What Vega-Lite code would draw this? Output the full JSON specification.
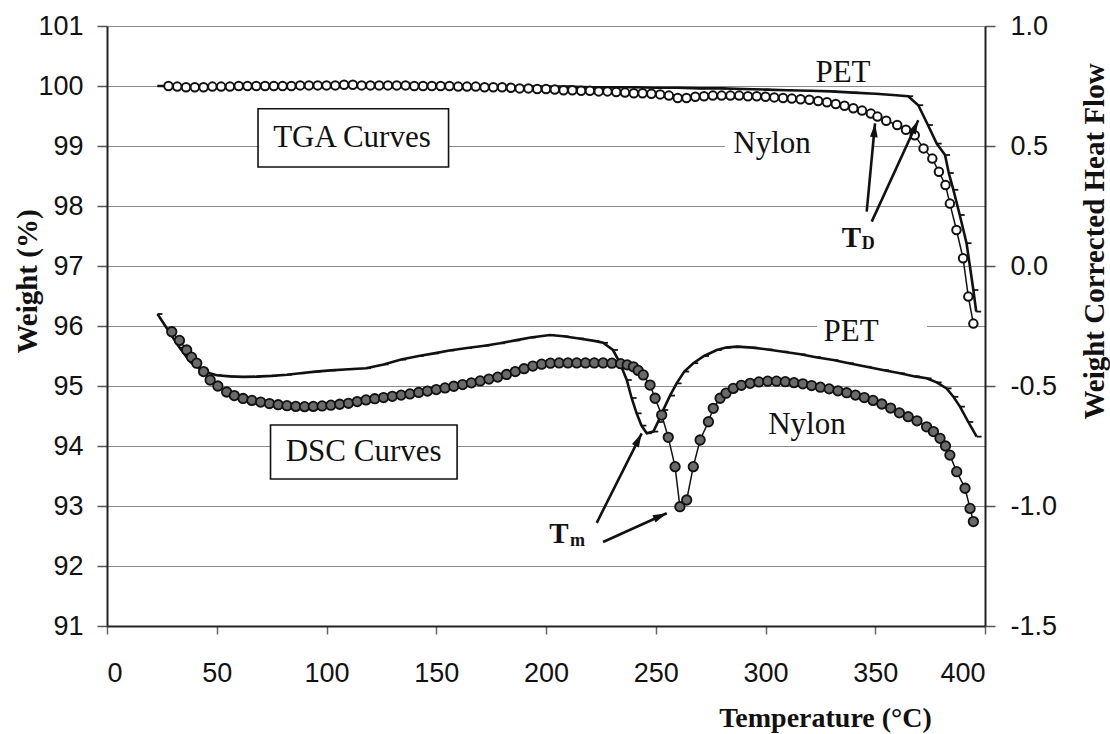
{
"$schema": "https://vega.github.io/schema/vega-lite/v6.json",
"width": 878, "height": 600,
"autosize": {"type": "none"},
"padding": {"left": 107, "top": 26, "right": 125, "bottom": 108},
"background": "white",
"config": {"view": {"stroke": null}, "font": "Liberation Sans"},
"datasets": {
"tga_nylon": [
{"T":28,"W":100.0},{"T":32,"W":99.99},{"T":36,"W":99.98},{"T":40,"W":99.98},{"T":44,"W":99.98},{"T":48,"W":99.99},{"T":52,"W":99.99},{"T":56,"W":99.99},{"T":60,"W":100.0},{"T":64,"W":100.0},{"T":68,"W":100.0},{"T":72,"W":100.0},{"T":76,"W":100.0},{"T":80,"W":100.0},{"T":84,"W":100.0},{"T":88,"W":100.01},{"T":92,"W":100.01},{"T":96,"W":100.01},{"T":100,"W":100.01},{"T":104,"W":100.01},{"T":108,"W":100.02},{"T":112,"W":100.02},{"T":116,"W":100.01},{"T":120,"W":100.01},{"T":124,"W":100.01},{"T":128,"W":100.01},{"T":132,"W":100.01},{"T":136,"W":100.01},{"T":140,"W":100.0},{"T":144,"W":100.0},{"T":148,"W":100.0},{"T":152,"W":100.0},{"T":156,"W":100.0},{"T":160,"W":99.99},{"T":164,"W":99.99},{"T":168,"W":99.99},{"T":172,"W":99.98},{"T":176,"W":99.98},{"T":180,"W":99.98},{"T":184,"W":99.97},{"T":188,"W":99.96},{"T":192,"W":99.96},{"T":196,"W":99.95},{"T":200,"W":99.95},{"T":204,"W":99.94},{"T":208,"W":99.93},{"T":212,"W":99.93},{"T":216,"W":99.92},{"T":220,"W":99.92},{"T":224,"W":99.91},{"T":228,"W":99.91},{"T":232,"W":99.9},{"T":236,"W":99.89},{"T":240,"W":99.88},{"T":244,"W":99.88},{"T":248,"W":99.87},{"T":252,"W":99.86},{"T":256,"W":99.84},{"T":260,"W":99.8},{"T":264,"W":99.8},{"T":268,"W":99.82},{"T":272,"W":99.83},{"T":276,"W":99.84},{"T":280,"W":99.84},{"T":284,"W":99.84},{"T":288,"W":99.84},{"T":292,"W":99.83},{"T":296,"W":99.83},{"T":300,"W":99.82},{"T":304,"W":99.81},{"T":308,"W":99.8},{"T":312,"W":99.79},{"T":316,"W":99.78},{"T":320,"W":99.77},{"T":324,"W":99.75},{"T":328,"W":99.73},{"T":332,"W":99.7},{"T":336,"W":99.67},{"T":340,"W":99.63},{"T":344,"W":99.59},{"T":348,"W":99.54},{"T":351,"W":99.49},{"T":355,"W":99.42},{"T":360,"W":99.35},{"T":364,"W":99.27},{"T":368,"W":99.18},{"T":372,"W":98.96},{"T":376,"W":98.79},{"T":379,"W":98.57},{"T":382,"W":98.35},{"T":384,"W":98.04},{"T":387,"W":97.6},{"T":390,"W":97.13},{"T":392.4,"W":96.49},{"T":394.7,"W":96.04}
],
"tga_pet": [
{"T":23,"W":100.0},{"T":30,"W":100.0},{"T":40,"W":100.0},{"T":50,"W":100.0},{"T":60,"W":100.0},{"T":70,"W":100.0},{"T":80,"W":100.0},{"T":90,"W":100.0},{"T":100,"W":100.0},{"T":110,"W":100.0},{"T":120,"W":100.0},{"T":130,"W":100.0},{"T":140,"W":100.0},{"T":150,"W":100.0},{"T":160,"W":100.0},{"T":170,"W":99.99},{"T":180,"W":99.99},{"T":190,"W":99.99},{"T":200,"W":99.99},{"T":210,"W":99.99},{"T":220,"W":99.98},{"T":230,"W":99.98},{"T":240,"W":99.98},{"T":250,"W":99.97},{"T":260,"W":99.97},{"T":270,"W":99.96},{"T":280,"W":99.96},{"T":290,"W":99.95},{"T":300,"W":99.94},{"T":310,"W":99.93},{"T":320,"W":99.92},{"T":330,"W":99.91},{"T":340,"W":99.89},{"T":350,"W":99.87},{"T":358,"W":99.85},{"T":365,"W":99.83},{"T":369.6,"W":99.68},{"T":374,"W":99.35},{"T":378,"W":99.04},{"T":381.8,"W":98.85},{"T":383.5,"W":98.55},{"T":385.6,"W":98.27},{"T":388.5,"W":97.85},{"T":391.6,"W":97.38},{"T":394.7,"W":96.6},{"T":396,"W":96.24}
],
"dsc_pet": [
{"T":23,"HF":-0.2},{"T":28,"HF":-0.27},{"T":33,"HF":-0.34},{"T":38,"HF":-0.4},{"T":44,"HF":-0.44},{"T":50,"HF":-0.455},{"T":56,"HF":-0.46},{"T":62,"HF":-0.462},{"T":68,"HF":-0.461},{"T":75,"HF":-0.458},{"T":82,"HF":-0.453},{"T":88,"HF":-0.447},{"T":95,"HF":-0.44},{"T":102,"HF":-0.435},{"T":110,"HF":-0.43},{"T":118,"HF":-0.426},{"T":126,"HF":-0.41},{"T":134,"HF":-0.39},{"T":142,"HF":-0.375},{"T":149,"HF":-0.364},{"T":156,"HF":-0.352},{"T":164,"HF":-0.342},{"T":172,"HF":-0.332},{"T":179,"HF":-0.322},{"T":186,"HF":-0.31},{"T":193,"HF":-0.298},{"T":201.8,"HF":-0.2875},{"T":208,"HF":-0.293},{"T":215,"HF":-0.302},{"T":222,"HF":-0.312},{"T":226,"HF":-0.32},{"T":230.5,"HF":-0.35},{"T":233.5,"HF":-0.4},{"T":236.8,"HF":-0.475},{"T":239,"HF":-0.55},{"T":241.3,"HF":-0.614},{"T":243.5,"HF":-0.665},{"T":245.9,"HF":-0.697},{"T":248.9,"HF":-0.69},{"T":251,"HF":-0.65},{"T":253.4,"HF":-0.6},{"T":256.5,"HF":-0.54},{"T":259.5,"HF":-0.489},{"T":263,"HF":-0.44},{"T":267.1,"HF":-0.405},{"T":272,"HF":-0.375},{"T":277.8,"HF":-0.35},{"T":282,"HF":-0.34},{"T":286.9,"HF":-0.336},{"T":294,"HF":-0.34},{"T":301,"HF":-0.348},{"T":308.1,"HF":-0.357},{"T":316,"HF":-0.368},{"T":323,"HF":-0.38},{"T":330.9,"HF":-0.392},{"T":338,"HF":-0.405},{"T":346,"HF":-0.42},{"T":354,"HF":-0.434},{"T":361.3,"HF":-0.447},{"T":368,"HF":-0.46},{"T":373.4,"HF":-0.468},{"T":378,"HF":-0.485},{"T":382.5,"HF":-0.51},{"T":385.6,"HF":-0.545},{"T":388.6,"HF":-0.586},{"T":392.4,"HF":-0.65},{"T":396.2,"HF":-0.711}
],
"dsc_nylon": [
{"T":29.5,"HF":-0.274},{"T":33,"HF":-0.31},{"T":36.3,"HF":-0.35},{"T":38.5,"HF":-0.38},{"T":40.9,"HF":-0.405},{"T":44,"HF":-0.44},{"T":47,"HF":-0.475},{"T":50.5,"HF":-0.5},{"T":54.5,"HF":-0.525},{"T":58,"HF":-0.54},{"T":62,"HF":-0.552},{"T":66,"HF":-0.56},{"T":70,"HF":-0.567},{"T":74,"HF":-0.573},{"T":78,"HF":-0.578},{"T":82,"HF":-0.582},{"T":86,"HF":-0.585},{"T":90,"HF":-0.586},{"T":94,"HF":-0.585},{"T":98,"HF":-0.583},{"T":102,"HF":-0.58},{"T":106,"HF":-0.576},{"T":110,"HF":-0.572},{"T":114,"HF":-0.565},{"T":118,"HF":-0.558},{"T":122,"HF":-0.553},{"T":126,"HF":-0.548},{"T":130,"HF":-0.543},{"T":134,"HF":-0.538},{"T":138,"HF":-0.533},{"T":142,"HF":-0.527},{"T":146,"HF":-0.521},{"T":150,"HF":-0.515},{"T":154,"HF":-0.508},{"T":158,"HF":-0.501},{"T":162,"HF":-0.494},{"T":166,"HF":-0.487},{"T":170,"HF":-0.479},{"T":174,"HF":-0.471},{"T":178,"HF":-0.463},{"T":182,"HF":-0.452},{"T":186,"HF":-0.44},{"T":190,"HF":-0.428},{"T":194,"HF":-0.417},{"T":198,"HF":-0.409},{"T":202,"HF":-0.405},{"T":206,"HF":-0.404},{"T":210,"HF":-0.404},{"T":214,"HF":-0.404},{"T":218,"HF":-0.404},{"T":222,"HF":-0.404},{"T":226,"HF":-0.404},{"T":230,"HF":-0.405},{"T":234,"HF":-0.407},{"T":237,"HF":-0.412},{"T":239.8,"HF":-0.42},{"T":242,"HF":-0.435},{"T":244.3,"HF":-0.454},{"T":247.4,"HF":-0.496},{"T":249.7,"HF":-0.551},{"T":252.7,"HF":-0.621},{"T":255.7,"HF":-0.714},{"T":258.8,"HF":-0.836},{"T":261,"HF":-1.003},{"T":264.1,"HF":-0.975},{"T":267.1,"HF":-0.836},{"T":270.2,"HF":-0.725},{"T":274,"HF":-0.649},{"T":276.2,"HF":-0.593},{"T":279.3,"HF":-0.551},{"T":282,"HF":-0.53},{"T":285.3,"HF":-0.51},{"T":289,"HF":-0.497},{"T":293,"HF":-0.489},{"T":297,"HF":-0.483},{"T":301,"HF":-0.48},{"T":305,"HF":-0.48},{"T":309,"HF":-0.482},{"T":313,"HF":-0.486},{"T":317,"HF":-0.491},{"T":321,"HF":-0.498},{"T":325,"HF":-0.505},{"T":329,"HF":-0.512},{"T":333,"HF":-0.52},{"T":337,"HF":-0.528},{"T":341,"HF":-0.538},{"T":345,"HF":-0.548},{"T":349,"HF":-0.56},{"T":353,"HF":-0.575},{"T":357,"HF":-0.592},{"T":361,"HF":-0.612},{"T":365,"HF":-0.628},{"T":369,"HF":-0.645},{"T":373.4,"HF":-0.67},{"T":376.5,"HF":-0.69},{"T":379.5,"HF":-0.718},{"T":382,"HF":-0.75},{"T":384,"HF":-0.788},{"T":387.1,"HF":-0.857},{"T":390.9,"HF":-0.926},{"T":393.2,"HF":-1.01},{"T":394.7,"HF":-1.065}
],
"gaps": [
{"T":281.5,"T2":348.4,"W":98.85,"W2":99.15},
{"T":323.5,"T2":373.6,"W":95.8,"W2":96.15}
],
"boxes": [
{"T":68.8,"T2":155.6,"W":98.65,"W2":99.62},
{"T":74.5,"T2":159.5,"W":93.45,"W2":94.35}
],
"labels": [
{"T":335.3,"W":100.22,"text":"PET"},
{"T":303.0,"W":99.03,"text":"Nylon"},
{"T":339.0,"W":95.9,"text":"PET"},
{"T":318.9,"W":94.35,"text":"Nylon"},
{"T":111.6,"W":99.13,"text":"TGA Curves"},
{"T":116.9,"W":93.9,"text":"DSC Curves"}
],
"tlabels": [
{"T":339.2,"W":97.32,"text":"T"},
{"T":205.9,"W":92.38,"text":"T"}
],
"subs": [
{"T":343.8,"W":97.28,"text":"D"},
{"T":210.9,"W":92.33,"text":"m"}
],
"arrows": [
{"T":346.1,"W":97.905,"T2":349.9,"W2":99.378,"angle":5},
{"T":348.4,"W":97.74,"T2":369.6,"W2":99.43,"angle":25},
{"T":223.1,"W":92.72,"T2":243.6,"W2":94.21,"angle":27},
{"T":226.0,"W":92.4,"T2":255.0,"W2":92.88,"angle":66}
]
},
"encoding": {
"x": {"field": "T", "type": "quantitative", "scale": {"domain": [0, 400], "nice": false, "zero": false}, "title": "Temperature (°C)",
 "axis": {"values": [0,50,100,150,200,250,300,350,400], "tickSize": 8, "tickColor": "#666", "tickWidth": 1.5, "domainColor": "#222", "domainWidth": 2, "labelFontSize": 27, "labelPadding": 26, "labelColor": "#111", "labelFont": "Liberation Sans", "grid": false, "titleFont": "Liberation Serif", "titleFontSize": 28, "titleFontWeight": "bold", "titleColor": "#111", "titleX": 718, "titleY": 100, "titleAlign": "center", "titleBaseline": "alphabetic"}}
},
"layer": [
{
 "encoding": {
  "y": {"field": "W", "type": "quantitative", "scale": {"domain": [91, 101], "nice": false, "zero": false}, "title": "Weight (%)",
   "axis": {"orient": "left", "values": [91,92,93,94,95,96,97,98,99,100,101], "grid": true, "gridColor": "#8a8a8a", "gridWidth": 1.2, "tickSize": 10, "tickColor": "#555", "tickWidth": 1.5, "domainColor": "#222", "domainWidth": 2, "labelFontSize": 27, "labelPadding": 14, "labelFont": "Liberation Sans", "labelColor": "#111", "titleFont": "Liberation Serif", "titleFontSize": 29, "titleFontWeight": "bold", "titleAngle": 270, "titleX": -80, "titleY": 255, "titleAlign": "center", "titleBaseline": "middle", "titleColor": "#111"}}
 },
 "layer": [
  {"data": {"name": "gaps"}, "mark": {"type": "rect", "fill": "white"}, "encoding": {"x2": {"field": "T2"}, "y2": {"field": "W2"}}},
  {"data": {"name": "boxes"}, "mark": {"type": "rect", "fill": "white", "stroke": "#111", "strokeWidth": 1.6}, "encoding": {"x2": {"field": "T2"}, "y2": {"field": "W2"}}},
  {"data": {"name": "tga_pet"}, "mark": {"type": "line", "color": "#111", "strokeWidth": 2.6}},
  {"data": {"name": "tga_pet"}, "mark": {"type": "point", "shape": "M0,-0.25L1.4,-0.25L1.4,0.25L0,0.25Z", "filled": true, "color": "#111", "size": 50, "opacity": 1}},
  {"data": {"name": "tga_nylon"}, "mark": {"type": "line", "color": "#111", "strokeWidth": 1.5}},
  {"data": {"name": "tga_nylon"}, "mark": {"type": "point", "shape": "circle", "filled": true, "fill": "white", "stroke": "#111", "strokeWidth": 2, "size": 72, "opacity": 1}},
  {"data": {"name": "arrows"}, "mark": {"type": "rule", "color": "#111", "strokeWidth": 2.6}, "encoding": {"x2": {"field": "T2"}, "y2": {"field": "W2"}}},
  {"data": {"name": "arrows"}, "mark": {"type": "point", "shape": "M0,0L-0.5,1.8L0.5,1.8Z", "filled": true, "color": "#111", "size": 240, "opacity": 1}, "encoding": {"x": {"field": "T2", "type": "quantitative"}, "y": {"field": "W2", "type": "quantitative"}, "angle": {"field": "angle", "type": "quantitative", "scale": null}}},
  {"data": {"name": "labels"}, "mark": {"type": "text", "font": "Liberation Serif", "fontSize": 31, "align": "center", "baseline": "middle", "color": "#111"}, "encoding": {"text": {"field": "text"}}},
  {"data": {"name": "tlabels"}, "mark": {"type": "text", "font": "Liberation Serif", "fontSize": 29, "fontWeight": "bold", "align": "center", "baseline": "alphabetic", "color": "#111"}, "encoding": {"text": {"field": "text"}}},
  {"data": {"name": "subs"}, "mark": {"type": "text", "font": "Liberation Serif", "fontSize": 18, "fontWeight": "bold", "align": "left", "baseline": "alphabetic", "color": "#111"}, "encoding": {"text": {"field": "text"}}}
 ]
},
{
 "encoding": {
  "y": {"field": "HF", "type": "quantitative", "scale": {"domain": [-1.5, 1.0], "nice": false, "zero": false}, "title": "Weight Corrected Heat Flow",
   "axis": {"orient": "right", "values": [-1.5,-1,-0.5,0,0.5,1], "labelExpr": "replace(format(datum.value, '.1f'), '\u2212', '-')", "grid": false, "tickSize": 10, "tickColor": "#555", "tickWidth": 1.5, "domainColor": "#222", "domainWidth": 2, "labelFontSize": 27, "labelPadding": 15, "labelFont": "Liberation Sans", "labelColor": "#111", "titleFont": "Liberation Serif", "titleFontSize": 29, "titleFontWeight": "bold", "titleAngle": 270, "titleX": 109, "titleY": 215, "titleAlign": "center", "titleBaseline": "middle", "titleColor": "#111"}}
 },
 "layer": [
  {"data": {"name": "dsc_pet"}, "mark": {"type": "line", "color": "#111", "strokeWidth": 2.6}},
  {"data": {"name": "dsc_pet"}, "mark": {"type": "point", "shape": "M0,-0.25L1.4,-0.25L1.4,0.25L0,0.25Z", "filled": true, "color": "#111", "size": 50, "opacity": 1}},
  {"data": {"name": "dsc_nylon"}, "mark": {"type": "line", "color": "#111", "strokeWidth": 1.5}},
  {"data": {"name": "dsc_nylon"}, "mark": {"type": "point", "shape": "circle", "filled": true, "fill": "#6a6a6a", "stroke": "#111", "strokeWidth": 1.8, "size": 90, "opacity": 1}}
 ]
}
],
"resolve": {"scale": {"y": "independent"}}
}
